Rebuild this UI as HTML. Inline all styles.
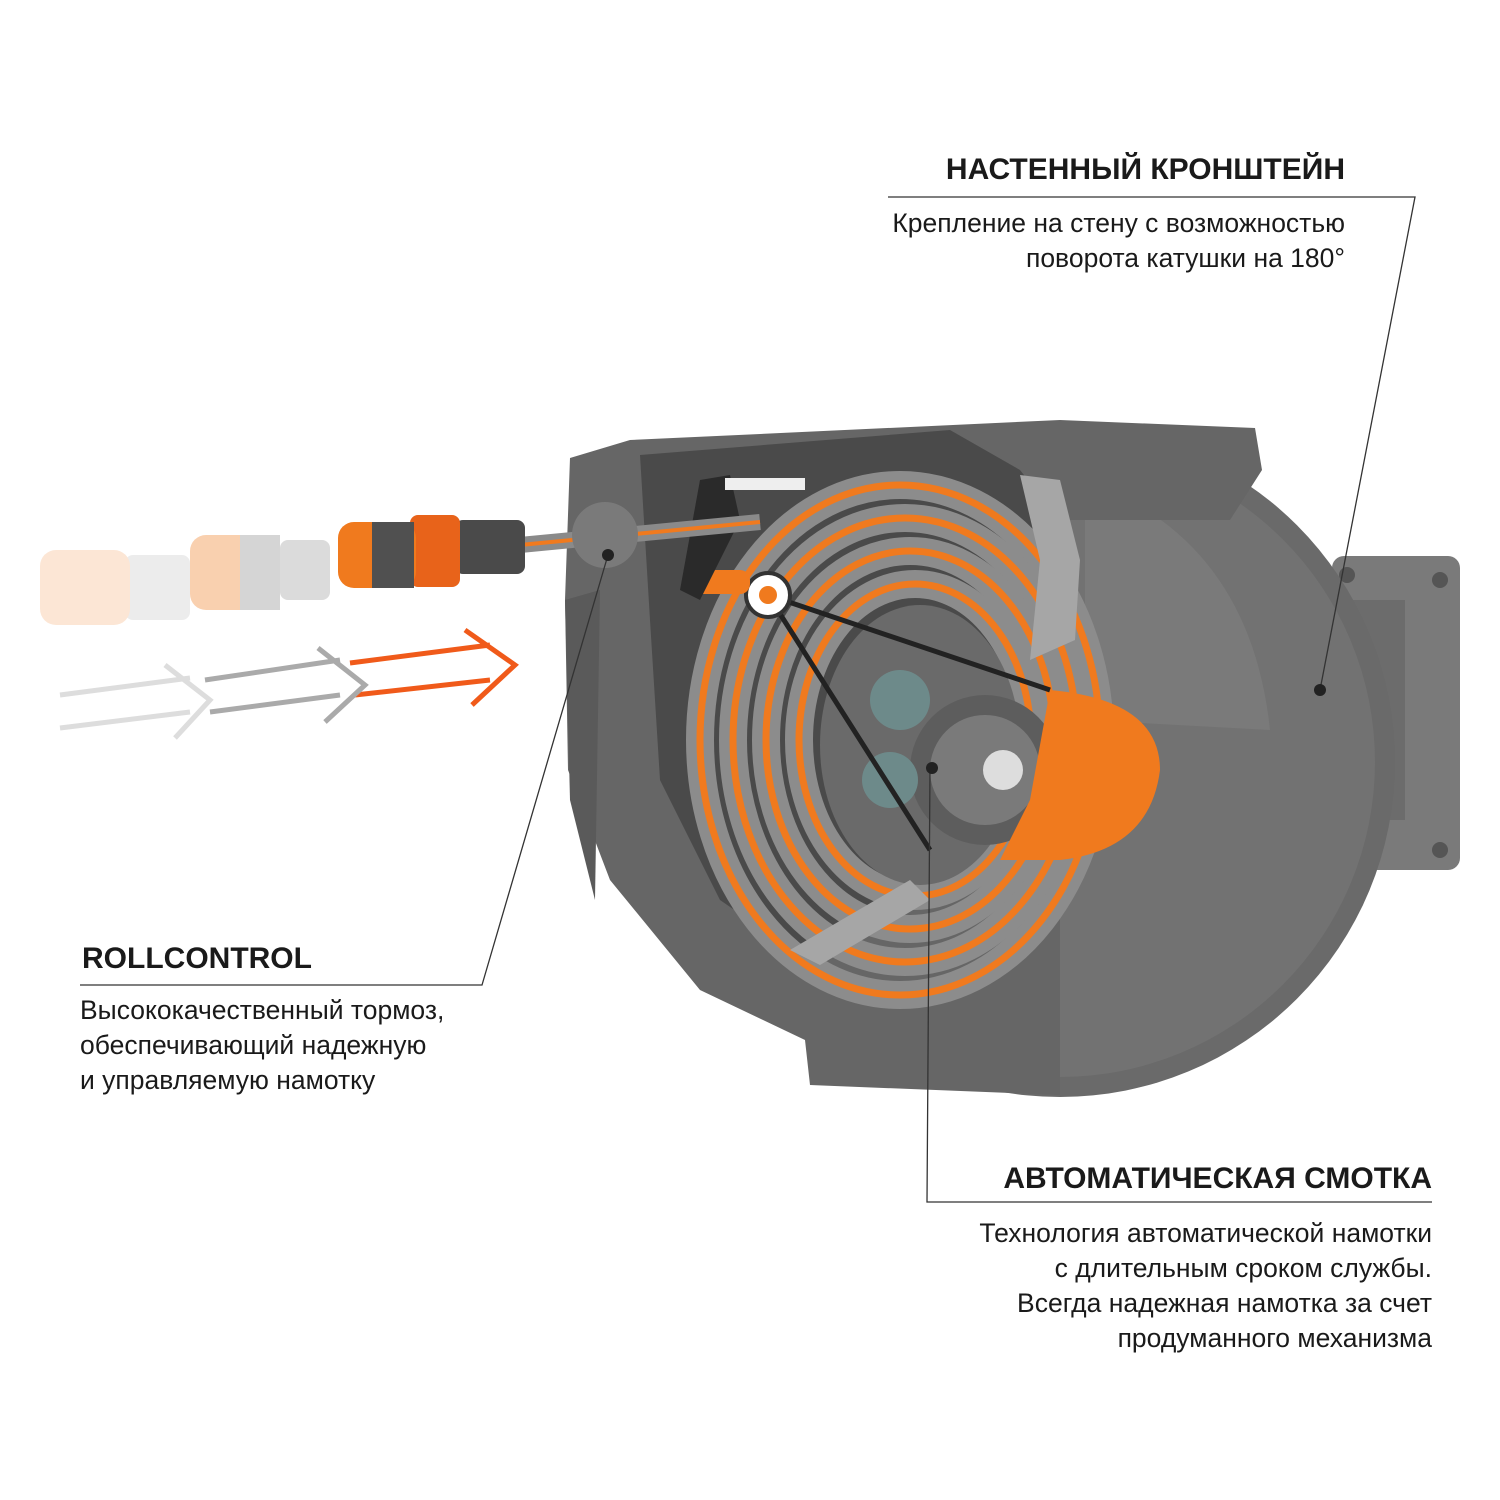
<!DOCTYPE html>
<html><head><meta charset="utf-8"><style>
html,body{margin:0;padding:0;background:#fff;}
svg{display:block}
text{font-family:"Liberation Sans","Noto Sans CJK SC",sans-serif;fill:#1a1a1a}
.h{font-weight:bold;font-size:30px}
.p{font-size:26.5px}
</style></head><body>
<svg width="1500" height="1500" viewBox="0 0 1500 1500" xmlns="http://www.w3.org/2000/svg">
<rect width="1500" height="1500" fill="#fff"/>
<rect x="1285" y="630" width="70" height="180" fill="#6f6f6f"/>
<rect x="1332" y="556" width="128" height="314" rx="12" fill="#7a7a7a"/>
<rect x="1345" y="600" width="60" height="220" fill="#6c6c6c"/>
<circle cx="1347" cy="575" r="8" fill="#555"/><circle cx="1440" cy="580" r="8" fill="#555"/>
<circle cx="1347" cy="850" r="8" fill="#555"/><circle cx="1440" cy="850" r="8" fill="#555"/>
<circle cx="1060" cy="762" r="335" fill="#6a6a6a"/>
<circle cx="1060" cy="762" r="315" fill="#727272"/>
<path d="M870 945 L1060 905 L1060 1085 Q960 1085 880 1040 Z" fill="#7d7d7d"/>
<path d="M1085 480 Q1250 540 1270 730 L1085 720 Z" fill="#7a7a7a"/>
<path d="M570 458 L630 440 L1060 420 L1255 428 L1262 470 L1230 520 L1060 520 L1060 1095 L810 1085 L805 1040 L700 990 L610 880 L568 770 L565 600 Z" fill="#666"/>
<path d="M565 600 L600 590 L595 900 L570 800 Z" fill="#5a5a5a"/>
<path d="M640 455 L950 430 L1020 470 L1075 540 L1080 660 L1030 700 L1000 860 L930 880 L800 955 L720 900 L660 780 L650 620 Z" fill="#4a4a4a"/>
<g fill="none">
<ellipse cx="900" cy="740" rx="200" ry="255" stroke="#8c8c8c" stroke-width="28"/>
<ellipse cx="900" cy="740" rx="200" ry="255" stroke="#f07a1e" stroke-width="7"/>
<ellipse cx="905" cy="740" rx="172" ry="222" stroke="#8c8c8c" stroke-width="28"/>
<ellipse cx="905" cy="740" rx="172" ry="222" stroke="#f07a1e" stroke-width="7"/>
<ellipse cx="910" cy="740" rx="144" ry="189" stroke="#8c8c8c" stroke-width="28"/>
<ellipse cx="910" cy="740" rx="144" ry="189" stroke="#f07a1e" stroke-width="7"/>
<ellipse cx="915" cy="740" rx="116" ry="156" stroke="#8c8c8c" stroke-width="28"/>
<ellipse cx="915" cy="740" rx="116" ry="156" stroke="#f07a1e" stroke-width="7"/>
</g>
<ellipse cx="920" cy="745" rx="100" ry="140" fill="#6a6a6a"/>
<path d="M1020 475 L1060 480 L1080 560 L1075 640 L1030 660 L1040 560 Z" fill="#a6a6a6"/>
<path d="M790 950 L910 880 L930 900 L820 965 Z" fill="#a6a6a6"/>
<circle cx="985" cy="770" r="75" fill="#5d5d5d"/>
<circle cx="985" cy="770" r="55" fill="#7a7a7a"/>
<circle cx="900" cy="700" r="30" fill="#6d8a8a"/>
<circle cx="890" cy="780" r="28" fill="#6d8a8a"/>
<path d="M1050 690 Q1160 700 1160 770 Q1150 850 1060 860 L1000 860 L1030 800 Z" fill="#f07a1e"/>
<circle cx="1003" cy="770" r="20" fill="#ddd"/>
<path d="M768 595 L1050 690 M768 595 L930 850" stroke="#222" stroke-width="5" fill="none"/>
<circle cx="768" cy="595" r="22" fill="#fff" stroke="#333" stroke-width="4"/>
<circle cx="768" cy="595" r="9" fill="#f07a1e"/>
<rect x="690" y="570" width="60" height="24" rx="10" fill="#f07a1e"/>
<path d="M700 480 L730 475 L740 520 L700 600 L680 590 Z" fill="#2a2a2a"/>
<rect x="725" y="478" width="80" height="12" fill="#eee"/>
<path d="M520 545 L760 522" stroke="#8a8a8a" stroke-width="16"/>
<path d="M520 545 L760 522" stroke="#f07a1e" stroke-width="4"/>
<circle cx="605" cy="535" r="33" fill="#7a7a7a"/>
<rect x="455" y="520" width="70" height="54" rx="8" fill="#4a4a4a"/>
<rect x="410" y="515" width="50" height="72" rx="8" fill="#e8631a"/>
<rect x="338" y="522" width="78" height="66" rx="16" fill="#f07a1e"/>
<rect x="372" y="522" width="42" height="66" fill="#505050"/>
<g opacity="0.35">
<rect x="280" y="540" width="50" height="60" rx="8" fill="#999"/>
<rect x="190" y="535" width="85" height="75" rx="16" fill="#f07a1e"/>
<rect x="240" y="535" width="40" height="75" fill="#888"/>
</g>
<g opacity="0.18">
<rect x="125" y="555" width="65" height="65" rx="8" fill="#999"/>
<rect x="40" y="550" width="90" height="75" rx="16" fill="#f07a1e"/>
</g>
<g fill="none" stroke-width="5" stroke-linejoin="miter">
<path d="M350 663 L490 645 M355 695 L490 680 M465 630 L515 665 L472 705" stroke="#f05a1a"/>
<path d="M205 680 L340 660 M210 712 L340 695 M318 648 L365 685 L325 722" stroke="#aaa"/>
<path d="M60 695 L190 678 M60 728 L190 712 M165 665 L210 700 L175 738" stroke="#ddd"/>
</g>
<g stroke="#333" stroke-width="1.3" fill="none">
<path d="M888 197 L1415 197 L1320 690"/>
<path d="M80 985 L482 985 L608 555"/>
<path d="M1432 1202 L927 1202 L930 768"/>
</g>
<circle cx="1320" cy="690" r="6" fill="#222"/>
<circle cx="608" cy="555" r="6" fill="#222"/>
<circle cx="932" cy="768" r="6" fill="#222"/>
<text class="h" x="1345" y="179" text-anchor="end">НАСТЕННЫЙ КРОНШТЕЙН</text>
<text class="p" x="1345" y="232" text-anchor="end">Крепление на стену с возможностью</text>
<text class="p" x="1345" y="267" text-anchor="end">поворота катушки на 180°</text>
<text class="h" x="82" y="968">ROLLCONTROL</text>
<text class="p" x="80" y="1019">Высококачественный тормоз,</text>
<text class="p" x="80" y="1054">обеспечивающий надежную</text>
<text class="p" x="80" y="1089">и управляемую намотку</text>
<text class="h" x="1432" y="1188" text-anchor="end">АВТОМАТИЧЕСКАЯ СМОТКА</text>
<text class="p" x="1432" y="1242" text-anchor="end">Технология автоматической намотки</text>
<text class="p" x="1432" y="1277" text-anchor="end">с длительным сроком службы.</text>
<text class="p" x="1432" y="1312" text-anchor="end">Всегда надежная намотка за счет</text>
<text class="p" x="1432" y="1347" text-anchor="end">продуманного механизма</text>
</svg>
</body></html>
